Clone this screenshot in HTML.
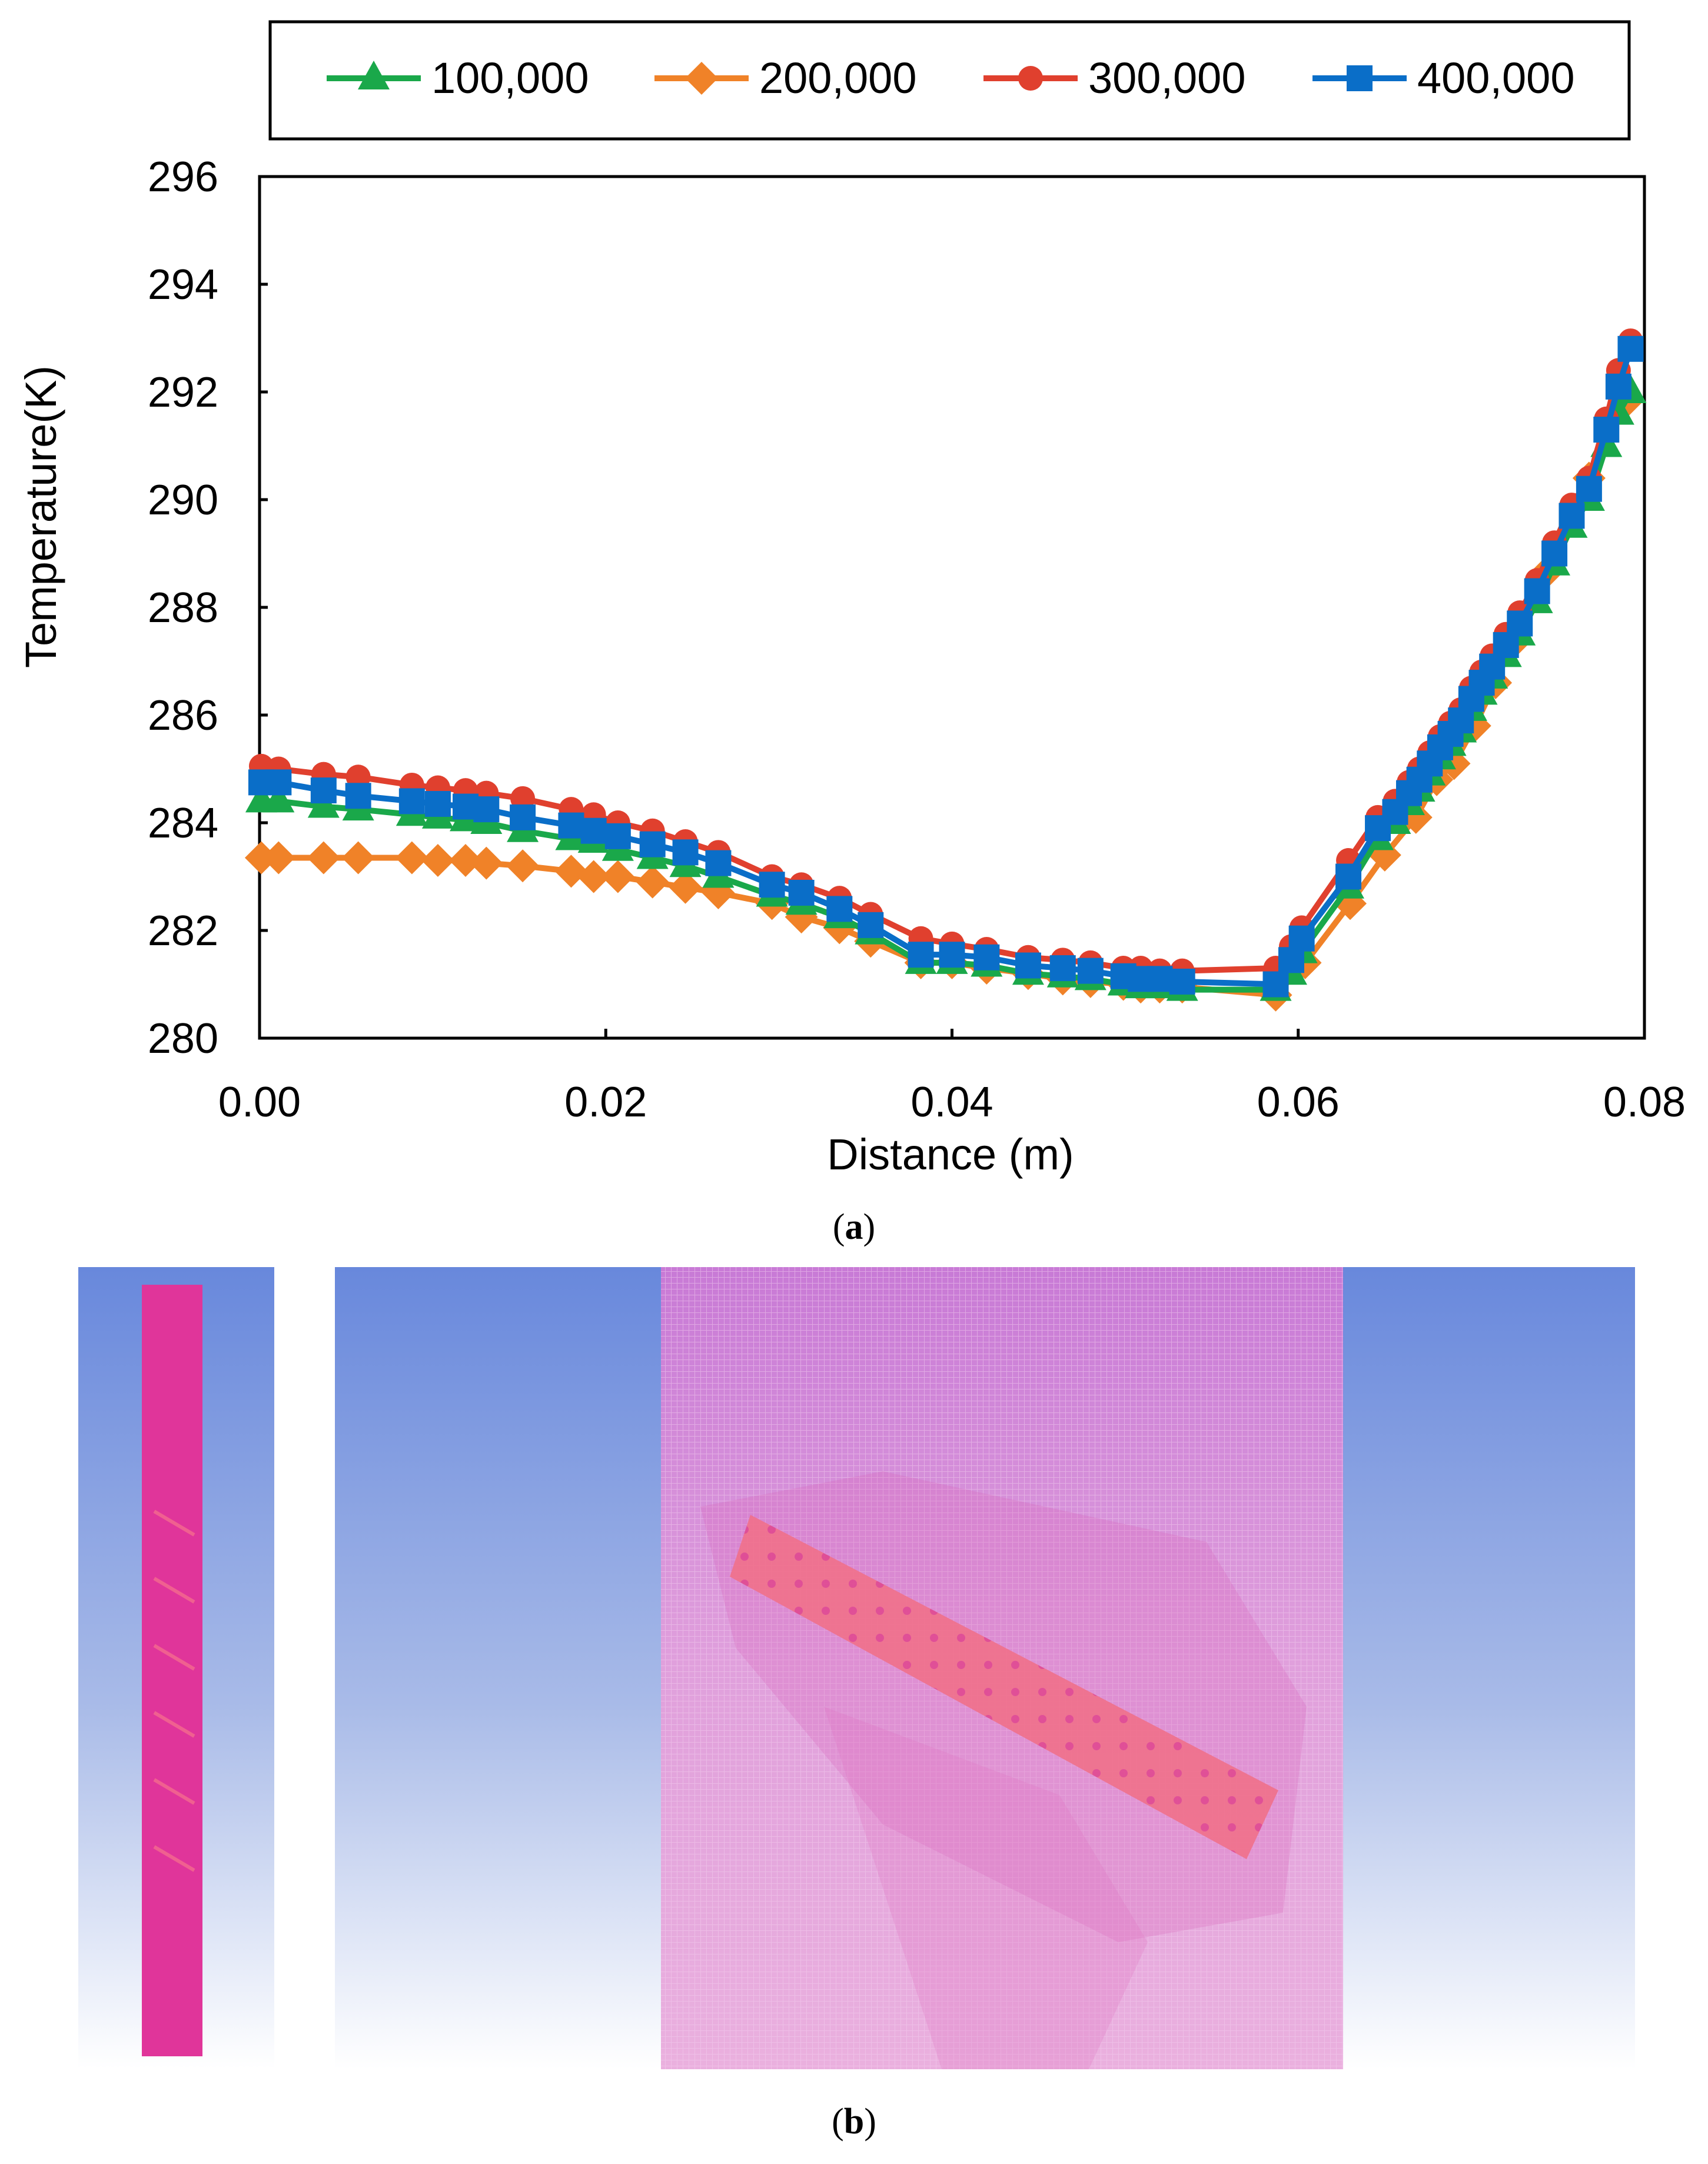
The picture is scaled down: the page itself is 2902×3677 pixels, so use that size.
<!DOCTYPE html>
<html><head><meta charset="utf-8"><style>
html,body{margin:0;padding:0;background:#fff}
svg{display:block}
text{font-family:"Liberation Sans",Arial,sans-serif}
</style></head><body>
<svg id="c" width="2902" height="3677" viewBox="0 0 2902 3677" xmlns="http://www.w3.org/2000/svg">
<defs>
<linearGradient id="bg" x1="0" y1="0" x2="0" y2="1"><stop offset="0" stop-color="#6888dc"/><stop offset="0.55" stop-color="#a9bbe8"/><stop offset="1" stop-color="#ffffff"/></linearGradient>
<linearGradient id="mesh" x1="0" y1="0" x2="0" y2="1"><stop offset="0" stop-color="#c87ad6"/><stop offset="0.5" stop-color="#e0a0dc"/><stop offset="1" stop-color="#eab0de"/></linearGradient>
<pattern id="dots" width="46" height="46" patternUnits="userSpaceOnUse"><rect width="46" height="46" fill="#f0708a"/><circle cx="23" cy="23" r="7" fill="#e04890"/></pattern>
<pattern id="grid" width="10" height="10" patternUnits="userSpaceOnUse"><path d="M0 0H10M0 0V10" stroke="#f4d0f0" stroke-width="2" opacity="0.5"/></pattern>
</defs>
<g id="chart"></g>
<g>
<rect x="133" y="2153" width="333" height="1362" fill="url(#bg)"/>
<rect x="241" y="2183" width="103" height="1311" fill="#e0359a"/>
<g stroke="#f06090" stroke-width="6">
<line x1="262" y1="2568" x2="330" y2="2608"/><line x1="262" y1="2682" x2="330" y2="2722"/><line x1="262" y1="2796" x2="330" y2="2836"/><line x1="262" y1="2910" x2="330" y2="2950"/><line x1="262" y1="3024" x2="330" y2="3064"/><line x1="262" y1="3138" x2="330" y2="3178"/>
</g>
<rect x="569" y="2153" width="2209" height="1363" fill="url(#bg)"/>
<rect x="1123" y="2153" width="1159" height="1363" fill="url(#mesh)"/>
<rect x="1123" y="2153" width="1159" height="1363" fill="url(#grid)"/>
<polygon points="1190,2560 1500,2500 2050,2620 2220,2900 2180,3250 1900,3300 1500,3100 1250,2800" fill="#d860b8" opacity="0.25"/>
<polygon points="1400,2900 1800,3050 1950,3300 1850,3516 1600,3516" fill="#e070c0" opacity="0.25"/>
<polygon points="1275,2574 1240,2679 2118,3159 2172,3042" fill="url(#dots)" opacity="0.9"/>
</g>
<text x="1451" y="2105" text-anchor="middle" font-size="62" style="font-family:'Liberation Serif',serif">(<tspan font-weight="bold">a</tspan>)</text>
<text x="1451" y="3625" text-anchor="middle" font-size="62" style="font-family:'Liberation Serif',serif">(<tspan font-weight="bold">b</tspan>)</text>
</svg>
<script>
const xTicks=[0,0.02,0.04,0.06,0.08];
const xTickLabels=["0.00","0.02","0.04","0.06","0.08"];
const yTicks=[280,282,284,286,288,290,292,294,296];
const seriesNames=["100,000","200,000","300,000","400,000"];
const X1=[0.0001,0.0011,0.0037,0.0057,0.0088,0.0103,0.0119,0.0131,0.0152,0.0180,0.0193,0.0207,0.0227,0.0246,0.0265,0.0296,0.0313,0.0335,0.0353,0.0382,0.0400,0.0420,0.0444,0.0464,0.0480,0.0499,0.0509,0.0520,0.0533,0.0587];
const X2=[0.0596,0.0602,0.0629,0.0646,0.0656,0.0664,0.0670,0.0676,0.0682,0.0688,0.0694,0.0700,0.0706,0.0712,0.0720,0.0728,0.0738,0.0748,0.0758,0.0768,0.0778,0.0785,0.0792];
const XO=[0.0604,0.0630,0.0650,0.0668,0.0680,0.0690,0.0702,0.0714,0.0723,0.0745,0.0768,0.0789];
const redY=[285.05,285.0,284.9,284.85,284.7,284.65,284.6,284.55,284.45,284.25,284.15,284.0,283.85,283.65,283.45,283.0,282.85,282.6,282.3,281.85,281.75,281.65,281.5,281.45,281.4,281.3,281.3,281.25,281.25,281.3,
 281.7,282.05,283.3,284.1,284.4,284.75,285.0,285.3,285.6,285.85,286.1,286.5,286.8,287.1,287.5,287.9,288.5,289.2,289.9,290.4,291.5,292.4,292.95];
const blueY=[284.75,284.75,284.6,284.5,284.4,284.35,284.3,284.25,284.1,283.95,283.85,283.75,283.6,283.45,283.25,282.85,282.7,282.4,282.1,281.55,281.55,281.5,281.35,281.3,281.25,281.15,281.1,281.1,281.05,281.0,
 281.45,281.85,283.0,283.9,284.2,284.55,284.8,285.1,285.4,285.65,285.9,286.3,286.6,286.9,287.3,287.7,288.3,289.0,289.7,290.2,291.3,292.1,292.8];
const greenY=[284.4,284.4,284.3,284.25,284.15,284.1,284.05,284.0,283.85,283.7,283.65,283.5,283.35,283.2,283.0,282.65,282.5,282.25,281.95,281.4,281.4,281.35,281.2,281.15,281.1,281.0,280.95,280.95,280.9,280.9,
 281.2,281.6,282.8,283.7,284.0,284.35,284.6,284.9,285.2,285.45,285.7,286.1,286.4,286.7,287.1,287.5,288.1,288.8,289.5,290.0,291.0,291.6,292.0];
const orangeY1=[283.35,283.35,283.35,283.35,283.35,283.3,283.3,283.25,283.2,283.1,283.0,283.0,282.9,282.8,282.7,282.5,282.25,282.05,281.8,281.4,281.4,281.3,281.2,281.1,281.05,281.0,280.95,280.95,280.95,280.8];
const orangeY2=[281.4,282.5,283.4,284.1,284.8,285.1,285.8,286.6,287.3,288.7,290.4,291.8];

const L=441,R=2794,T=300,B=1764;
const sx=v=>L+(v-0)/(0.08)*(R-L);
const sy=v=>B-(v-280)/(16)*(B-T);
const NS="http://www.w3.org/2000/svg";
const g=document.getElementById('chart');
function mk(tag,attrs,parent){const e=document.createElementNS(NS,tag);for(const k in attrs)e.setAttribute(k,attrs[k]);(parent||g).appendChild(e);return e;}

let fr=mk('rect',{x:L,y:T,width:R-L,height:B-T,fill:'none',stroke:'#000','stroke-width':5});



yTicks.forEach(v=>{
  let t=mk('line',{x1:L,x2:L+14,y1:sy(v),y2:sy(v),stroke:'#000','stroke-width':5});
  
  
  let tx=mk('text',{x:L-70,y:sy(v)+25,'text-anchor':'end','font-size':72,fill:'#000'});
  tx.textContent=v;
  
  
});
xTicks.forEach((v,i)=>{
  let t=mk('line',{x1:sx(v),x2:sx(v),y1:B,y2:B-16,stroke:'#000','stroke-width':5});
  
  
  let tx=mk('text',{x:sx(v),y:1897,'text-anchor':'middle','font-size':72,fill:'#000'});
  tx.textContent=xTickLabels[i];
  
  
});
let xt=mk('text',{x:1615,y:1987,'text-anchor':'middle','font-size':74});
xt.textContent='Distance (m)';


let yt=mk('text',{x:0,y:0,'text-anchor':'middle','font-size':74,transform:'translate(95,878) rotate(-90)'});
yt.textContent='Temperature(K)';



const colors=['#1aa84a','#f08228','#e0402e','#0a6ec8'];
function marker(type,x,y,c,parent){
  let e;
  if(type==0) e=mk('polygon',{points:`${x},${y-30} ${x-27},${y+19} ${x+27},${y+19}`,fill:c},parent);
  else if(type==1) e=mk('polygon',{points:`${x},${y-28} ${x+28},${y} ${x},${y+28} ${x-28},${y}`,fill:c},parent);
  else if(type==2) e=mk('circle',{cx:x,cy:y,r:21,fill:c},parent);
  else e=mk('rect',{x:x-22,y:y-22,width:44,height:44,fill:c},parent);
  return e;
}
function series(idx,xs,ys){
  const sg=mk('g',{});
  
  
  const p=mk('polyline',{points:xs.map((x,i)=>sx(x)+','+sy(ys[i])).join(' '),fill:'none',stroke:colors[idx],'stroke-width':10,'stroke-linejoin':'round'},sg);
  
  
  xs.forEach((x,i)=>{
    const m=marker(idx,sx(x),sy(ys[i]),colors[idx],sg);
    
    
  });
}
const XA=X1.concat(X2);
series(1,X1.concat(XO),orangeY1.concat(orangeY2));
series(0,XA,greenY);
series(2,XA,redY);
series(3,XA,blueY);

const lg=mk('g',{});


const lb=mk('rect',{x:459,y:37,width:2309,height:199,fill:'#fff',stroke:'#000','stroke-width':5},lg);


const lx=[555,1112,1671,2230];
seriesNames.forEach((n,i)=>{
  const eg=mk('g',{},lg);
  
  
  mk('line',{x1:lx[i],x2:lx[i]+160,y1:133,y2:133,stroke:colors[i],'stroke-width':10},eg);
  marker(i,lx[i]+80,133,colors[i],eg);
  const t=mk('text',{x:lx[i]+178,y:158,'font-size':74},eg);
  t.textContent=n;
});
</script>
</body></html>
